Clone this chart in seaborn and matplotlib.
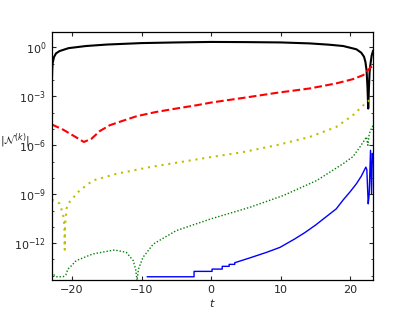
import numpy as np
import seaborn as sns
import matplotlib
matplotlib.use('Agg')
import matplotlib.pyplot as plt
from matplotlib.ticker import FixedLocator, LogFormatterSciNotation, NullFormatter

# values (t, log10|N^(k)|)
t_k0 = [-22.9, -22.85, -22.8, -22.6, -22.3, -21.8, -20.5, -18, -15, -10, -5, 0, 5, 10, 14.2, 17, 19, 20.9, 21.6, 22.0, 22.2, 22.36, 22.5, 22.6, 22.7, 22.8, 22.93, 23.1, 23.3]
n_k0 = [-2.2, -1.4, -1.0, -0.6, -0.37, -0.23, -0.05, 0.08, 0.17, 0.26, 0.3, 0.33, 0.32, 0.3, 0.24, 0.16, 0.08, -0.12, -0.33, -0.58, -0.9, -1.4, -2.5, -3.75, -2.5, -1.5, -1.0, -0.5, -0.2]

t_k1 = [-22.9, -21.3, -19.9, -18.3, -17.2, -16.0, -14.6, -12.9, -10.7, -7.9, -5.0, -2.1, 0.06, 4.6, 9.4, 14.2, 18.0, 20.4, 21.9, 22.8, 23.3]
n_k1 = [-4.73, -5.04, -5.39, -5.8, -5.6, -5.13, -4.78, -4.53, -4.22, -3.96, -3.75, -3.55, -3.38, -3.1, -2.79, -2.52, -2.21, -1.95, -1.7, -1.29, -1.1]

t_k2 = [-22.9, -22.3, -21.8, -21.3, -21.1, -21.05, -21.0, -20.8, -20.6, -19.4, -18.9, -17.0, -13.6, -8.8, 0.06, 4.6, 9.4, 14.2, 18.0, 20.4, 21.9, 22.8, 23.3]
n_k2 = [-9.33, -9.45, -9.57, -10.2, -10.9, -12.4, -10.9, -9.9, -9.6, -9.0, -8.77, -8.16, -7.75, -7.34, -6.72, -6.42, -6.0, -5.49, -4.88, -4.16, -3.55, -3.24, -3.1]

t_k3 = [-22.9, -22.6, -22.2, -21.3, -20.9, -20.6, -20.3, -19.4, -17.0, -13.9, -12.2, -11.2, -10.85, -10.65, -10.45, -9.8, -8.3, -5.0, 0, 5.6, 10.4, 15.2, 19.0, 20.4, 21.4, 22.36, 22.55, 22.75, 23.1, 23.3]
n_k3 = [-13.75, -13.95, -14.06, -14.06, -13.95, -13.59, -13.48, -13.07, -12.66, -12.42, -12.56, -13.07, -13.6, -14.3, -13.6, -12.87, -12.05, -11.23, -10.51, -9.8, -9.08, -8.16, -7.13, -6.7, -6.11, -5.49, -6.0, -5.3, -4.92, -4.8]

t_k4 = [-9.2, -2.45, -2.45, 0.14, 0.14, 1.6, 1.6, 2.6, 2.6, 3.4, 3.4, 5.6, 8.0, 9.9, 12.0, 13.5, 15.0, 16.5, 18.0, 19.0, 20.0, 20.9, 21.6, 22.26, 22.4, 22.6, 22.74, 22.93, 23.08, 23.2, 23.3]
n_k4 = [-14.06, -14.06, -13.73, -13.73, -13.59, -13.59, -13.42, -13.42, -13.3, -13.3, -13.2, -12.9, -12.56, -12.26, -11.75, -11.35, -10.9, -10.4, -9.9, -9.35, -8.85, -8.36, -7.9, -7.34, -7.5, -9.59, -9.0, -6.31, -8.96, -6.5, -7.0]

curves = [
    (t_k0, n_k0, 'k', '-', 1.5),
    (t_k1, n_k1, 'r', (0, (3.7, 1.6)), 1.5),
    (t_k2, n_k2, 'y', (0, (1, 2.3)), 1.5),
    (t_k3, n_k3, 'g', (0, (1, 1.4)), 1.0),
    (t_k4, n_k4, 'b', '-', 1.0),
]

sns.set_style('ticks', {'xtick.direction': 'in', 'ytick.direction': 'in',
                        'xtick.top': True, 'ytick.right': True,
                        'axes.edgecolor': 'black'})
plt.rcParams['font.family'] = ['DejaVu Sans']

fig = plt.figure(figsize=(4.15, 3.12), dpi=100)
ax = fig.add_axes([0.125, 0.103, 0.774, 0.795])

for t, n, c, ls, lw in curves:
    sns.lineplot(x=t, y=10.0 ** np.array(n), color=c, linestyle=ls, lw=lw,
                 estimator=None, sort=False, ax=ax)

ax.set_yscale('log')
ax.set_xlim(-22.9, 23.3)
ax.set_ylim(10 ** -14.25, 10 ** 0.95)
ax.set_xticks([-20, -10, 0, 10, 20])
ax.yaxis.set_major_locator(FixedLocator([1e0, 1e-3, 1e-6, 1e-9, 1e-12]))
ax.yaxis.set_major_formatter(LogFormatterSciNotation())
ax.yaxis.set_minor_locator(FixedLocator([10.0 ** e for e in range(-14, 1) if e % 3 != 0]))
ax.yaxis.set_minor_formatter(NullFormatter())
ax.tick_params(which='major', length=3, width=0.8, labelsize=8, pad=4)
ax.tick_params(which='minor', length=1.5, width=0.6)
ax.tick_params(axis='x', which='minor', bottom=False, top=False)
for s in ax.spines.values():
    s.set_linewidth(0.9)

ax.set_xlabel('$t$', fontsize=8, labelpad=1)
ax.set_ylabel(r'$|\mathcal{N}^{(k)}|$', fontsize=8, rotation=0, ha='center', va='center')
ax.yaxis.set_label_coords(-0.115, 0.56)

fig.savefig('out.png', dpi=100)
